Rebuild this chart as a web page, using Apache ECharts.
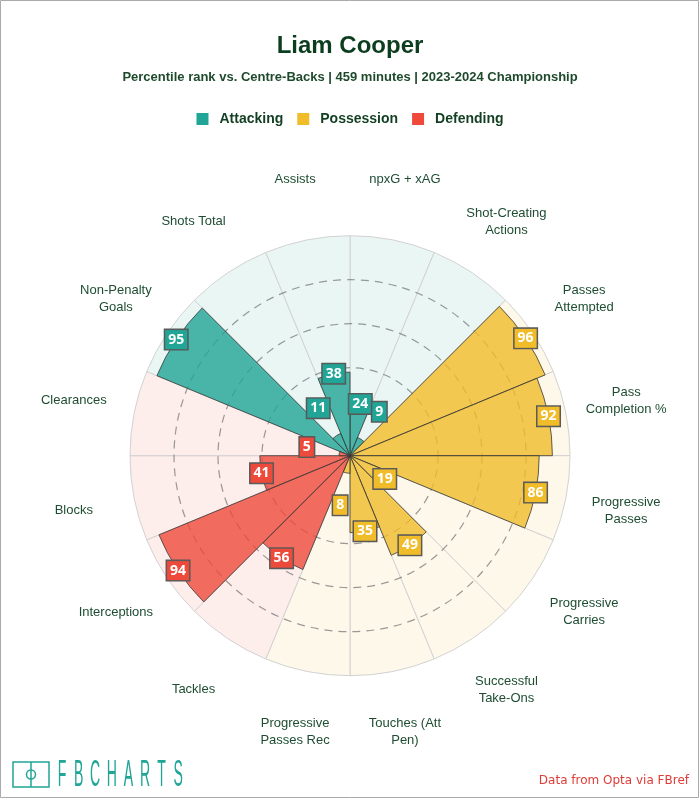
<!DOCTYPE html>
<html><head><meta charset="utf-8">
<script src="https://cdn.jsdelivr.net/npm/echarts@6/dist/echarts.min.js"></script>
<style>html,body{margin:0;padding:0;background:#fff}#c{width:700px;height:800px}</style>
</head><body><div id="c"></div><script>
const categories = ['npxG + xAG','Shot-Creating\nActions','Passes\nAttempted','Pass\nCompletion %','Progressive\nPasses','Progressive\nCarries','Successful\nTake-Ons','Touches (Att\nPen)','Progressive\nPasses Rec','Tackles','Interceptions','Blocks','Clearances','Non-Penalty\nGoals','Shots Total','Assists'];
const values = [24, 9, 96, 92, 86, 19, 49, 35, 8, 56, 94, 41, 5, 95, 11, 38];
const groups = ['Attacking','Attacking','Possession','Possession','Possession','Possession','Possession','Possession','Possession','Defending','Defending','Defending','Defending','Attacking','Attacking','Attacking'];
const groupNames = ['Attacking','Possession','Defending'];
const groupColors = {Attacking:'#20a596', Possession:'#f0bc29', Defending:'#ee4a3c'};
const groupBg = {Attacking:'#e9f6f4', Possession:'#fef8ea', Defending:'#fdedeb'};
const title = 'Liam Cooper';
const subtitle = 'Percentile rank vs. Centre-Backs | 459 minutes | 2023-2024 Championship';
const ringTicks = [0, 20, 40, 60, 80, 100];

const chart = echarts.init(document.getElementById('c'));
const dashColor = 'rgba(120,120,120,0.75)';
const series = [];
series.push({
  type:'bar', coordinateSystem:'polar', silent:true, z:1,
  barCategoryGap:'0%', barGap:'-100%',
  data: categories.map((c,i)=>({value:100, itemStyle:{color:groupBg[groups[i]]}})),
  itemStyle:{borderColor:'#d2d2d2', borderWidth:1}
});
groupNames.forEach(g=>{
  series.push({
    name:g, type:'bar', coordinateSystem:'polar', z:3,
    barCategoryGap:'0%', barGap:'-100%',
    data: values.map((v,i)=> groups[i]===g ? v : '-'),
    itemStyle:{color:groupColors[g], opacity:0.8, borderColor:'#3a3a3a', borderWidth:1}
  });
});
series.push({
  type:'scatter', coordinateSystem:'polar', z:5, clip:false, silent:true,
  symbolSize:1, itemStyle:{color:'rgba(0,0,0,0)', opacity:1},
  data: values.map((v,i)=>({
    value:[v < 15 ? v + 15 : v, i],
    label:{backgroundColor:groupColors[groups[i]]}
  })),
  label:{show:true, position:'inside', formatter:p=>values[p.dataIndex], opacity:1,
    color:'#fff', fontWeight:'bold', fontSize:14, fontFamily:'Open Sans',
    borderColor:'#5a5a5a', borderWidth:1.5, padding:[2,3,0,3], lineHeight:17}
});
series.push({
  type:'scatter', coordinateSystem:'polar', z:5, clip:false, silent:true,
  symbolSize:1, itemStyle:{color:'rgba(0,0,0,0)', opacity:1},
  data: categories.map((c,i)=>[128, i]),
  label:{show:true, position:'inside', formatter:p=>categories[p.dataIndex], opacity:1,
    color:'#1e4d31', fontSize:13, fontFamily:'Liberation Sans', lineHeight:17, align:'center'}
});

const letters = 'FBCHARTS'.split('');
const graphics = [
  {type:'rect', shape:{x:0.5,y:0.5,width:698,height:797}, style:{fill:'none', stroke:'#aaa', lineWidth:1}, silent:true},
  {type:'rect', shape:{x:13,y:762,width:36,height:25}, style:{fill:'none', stroke:'#20a596', lineWidth:1.5}},
  {type:'line', shape:{x1:31,y1:762,x2:31,y2:787}, style:{stroke:'#20a596', lineWidth:1.5}},
  {type:'circle', shape:{cx:31,cy:774.5,r:4.5}, style:{fill:'none', stroke:'#20a596', lineWidth:1.5}},
  {type:'text', right:11, top:775, style:{text:'Data from Opta via FBref', fill:'#e03b35', font:'12px "DejaVu Sans"'}}
];
letters.forEach((ch,i)=>{
  graphics.push({type:'text', x:62 + i*16.6, y:775.5, scaleX:0.38,
    style:{text:ch, fill:'#20a596', font:'300 37px "Liberation Sans"', textAlign:'center', textVerticalAlign:'middle'}});
});

chart.setOption({
  animation:false,
  title:[
    {text:title, left:'center', top:29, textStyle:{fontSize:24, fontWeight:'bold', color:'#0d3d1f', fontFamily:'Liberation Sans'}},
    {text:subtitle, left:'center', top:66, textStyle:{fontSize:13, fontWeight:'bold', color:'#1e4a2c', fontFamily:'Liberation Sans'}}
  ],
  legend:{top:107, left:'center', icon:'rect', itemWidth:12, itemHeight:12, itemGap:14,
    data: groupNames.map(g=>({name:g, itemStyle:{color:groupColors[g], opacity:1, borderWidth:0}})),
    textStyle:{fontSize:14, fontWeight:'bold', color:'#123f22', fontFamily:'Liberation Sans', padding:[0,0,0,6]}},
  polar:{center:[350,455.7], radius:220},
  angleAxis:{type:'category', data:categories, startAngle:90, clockwise:true,
    axisLine:{show:false}, axisTick:{show:false}, axisLabel:{show:false}, splitLine:{show:false}},
  radiusAxis:{min:0, max:100, interval:20, z:2,
    axisLine:{show:false}, axisTick:{show:false}, axisLabel:{show:false},
    splitLine:{show:true, lineStyle:{color:ringTicks.map(t => (t>=40 && t<=80) ? dashColor : 'rgba(0,0,0,0)'), type:[8,6], width:1.2}}},
  graphic:graphics,
  series:series
});
</script></body></html>
